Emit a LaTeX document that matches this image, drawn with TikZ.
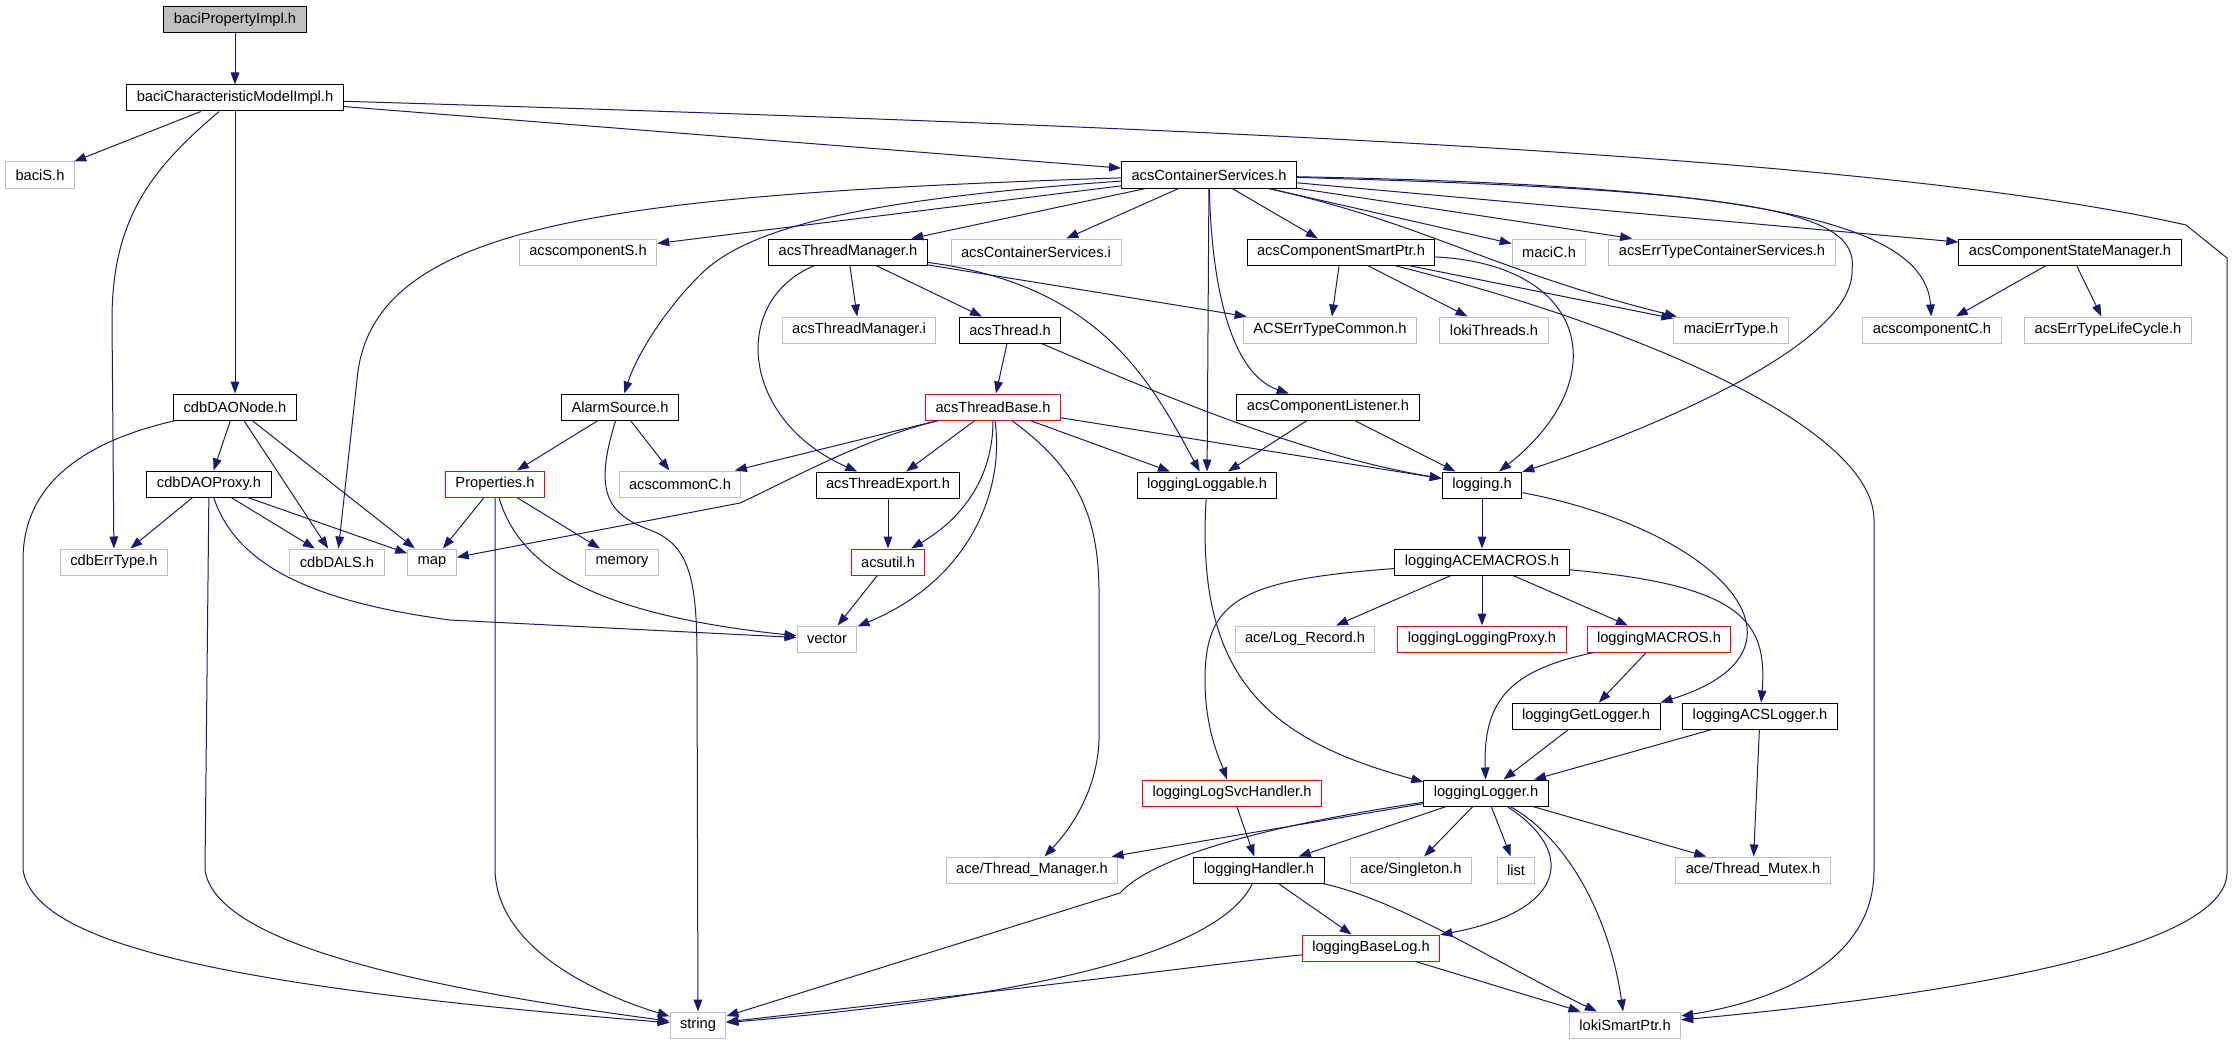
\documentclass[tikz,border=0pt]{standalone}
\usepackage{fontspec}
\setmainfont{Liberation Sans}
\usepackage{tikz}
\usetikzlibrary{arrows.meta}
\definecolor{edgeblue}{RGB}{25,25,112}
\definecolor{boxgray}{RGB}{191,191,191}
\definecolor{boxred}{RGB}{255,0,0}

\begin{document}
\begin{tikzpicture}[x=0.75pt, y=-0.75pt,
    file/.style={draw=black, line width=0.75pt, minimum height=19.5pt, inner xsep=7.5pt, inner ysep=0pt, font=\fontsize{11}{13}\selectfont},
    sysfile/.style={file, draw=boxgray},
    partfile/.style={file, draw=boxred},
    rootfile/.style={file, fill=boxgray},
    dep/.style={edgeblue, line width=0.75pt, -{Triangle[length=9pt,width=6.5pt]}}]
        \useasboundingbox (0,0) rectangle (2233,1045);
        \fill[white] (0,0) rectangle (2233,1045);

        \node[rootfile] (root) at (235,20) {baciPropertyImpl.h};
        \node[file] (bcm) at (235,98) {baciCharacteristicModelImpl.h};
        \node[sysfile] (bacis) at (40,175) {baciS.h};
        \node[file] (csv) at (1209,175) {acsContainerServices.h};
        \node[sysfile] (compS) at (588,252) {acscomponentS.h};
        \node[file] (tmgr) at (848,252) {acsThreadManager.h};
        \node[sysfile] (csvi) at (1036,252) {acsContainerServices.i};
        \node[file] (smart) at (1341,252) {acsComponentSmartPtr.h};
        \node[sysfile] (macic) at (1549,252) {maciC.h};
        \node[sysfile] (errcs) at (1722,252) {acsErrTypeContainerServices.h};
        \node[file] (stmgr) at (2070,252) {acsComponentStateManager.h};
        \node[sysfile] (tmgri) at (859,330) {acsThreadManager.i};
        \node[file] (thr) at (1010,330) {acsThread.h};
        \node[sysfile] (errcom) at (1330,330) {ACSErrTypeCommon.h};
        \node[sysfile] (lthr) at (1494,330) {lokiThreads.h};
        \node[sysfile] (macierr) at (1731,330) {maciErrType.h};
        \node[sysfile] (compC) at (1932,330) {acscomponentC.h};
        \node[sysfile] (errlc) at (2108,330) {acsErrTypeLifeCycle.h};
        \node[file] (daonode) at (235,407) {cdbDAONode.h};
        \node[file] (alarm) at (620,407) {AlarmSource.h};
        \node[partfile] (tbase) at (993,407) {acsThreadBase.h};
        \node[file] (listener) at (1328,407) {acsComponentListener.h};
        \node[file] (daoproxy) at (209,484) {cdbDAOProxy.h};
        \node[partfile] (props) at (495,484) {Properties.h};
        \node[sysfile] (commonC) at (680,484) {acscommonC.h};
        \node[file] (texport) at (888,485) {acsThreadExport.h};
        \node[file] (loggable) at (1207,485) {loggingLoggable.h};
        \node[file] (logging) at (1482,485) {logging.h};
        \node[sysfile] (cdberr) at (114,562) {cdbErrType.h};
        \node[sysfile] (dals) at (337,562) {cdbDALS.h};
        \node[sysfile] (map) at (432,562) {map};
        \node[sysfile] (memory) at (622,562) {memory};
        \node[partfile] (util) at (888,562) {acsutil.h};
        \node[file] (acemac) at (1482,562) {loggingACEMACROS.h};
        \node[sysfile] (vector) at (827,639) {vector};
        \node[sysfile] (logrec) at (1305,639) {ace/Log\_Record.h};
        \node[partfile] (proxy) at (1482,639) {loggingLoggingProxy.h};
        \node[partfile] (macros) at (1659,639) {loggingMACROS.h};
        \node[file] (getlog) at (1586,716) {loggingGetLogger.h};
        \node[file] (acslog) at (1760,716) {loggingACSLogger.h};
        \node[file] (logger) at (1486,793) {loggingLogger.h};
        \node[partfile] (svc) at (1232,793) {loggingLogSvcHandler.h};
        \node[sysfile] (tmgrace) at (1032,870) {ace/Thread\_Manager.h};
        \node[file] (handler) at (1259,870) {loggingHandler.h};
        \node[sysfile] (single) at (1411,870) {ace/Singleton.h};
        \node[sysfile] (list) at (1516,870) {list};
        \node[sysfile] (mutex) at (1753,870) {ace/Thread\_Mutex.h};
        \node[partfile] (baselog) at (1371,948) {loggingBaseLog.h};
        \node[sysfile] (string) at (698,1025) {string};
        \node[sysfile] (loki) at (1625,1025) {lokiSmartPtr.h};

        \draw[dep] (root) -- (bcm);
        \draw[dep] (bcm) -- (bacis);
        \draw[dep] (bcm) .. controls (150,170) and (112,220) .. (112,320) -- (cdberr);
        \draw[dep] (bcm) -- (daonode);
        \draw[dep] (bcm) -- (csv);
        \draw[dep] (bcm) .. controls (1300,130) and (1900,160) .. (2186,225) -- (2227,258) -- (2227,873) .. controls (2225,950) and (1950,995) .. (loki);

        \draw[dep] (csv) -- (compS);
        \draw[dep] (csv) -- (tmgr);
        \draw[dep] (csv) -- (csvi);
        \draw[dep] (csv) -- (smart);
        \draw[dep] (csv) -- (macic);
        \draw[dep] (csv) -- (errcs);
        \draw[dep] (csv) -- (stmgr);
        \draw[dep] (csv) .. controls (1720,185) and (1925,215) .. (compC);
        \draw[dep] (csv) .. controls (1750,190) and (1860,210) .. (1852,270) .. controls (1855,350) and (1620,440) .. (logging);
        \draw[dep] (csv) .. controls (1430,225) and (1490,270) .. (macierr);
        \draw[dep] (csv) -- (loggable);
        \draw[dep] (csv) .. controls (1212,300) and (1235,375) .. (listener);
        \draw[dep] (csv) .. controls (850,200) and (745,230) .. (700,275) .. controls (660,315) and (635,360) .. (alarm);
        \draw[dep] (csv) .. controls (600,195) and (370,225) .. (357,380) -- (dals);

        \draw[dep] (smart) -- (errcom);
        \draw[dep] (smart) -- (lthr);
        \draw[dep] (smart) -- (macierr);
        \draw[dep] (smart) .. controls (1590,265) and (1615,380) .. (logging);
        \draw[dep] (smart) .. controls (1650,330) and (1874,430) .. (1874,520) -- (1874,870) .. controls (1874,960) and (1780,1000) .. (loki);
        \draw[dep] (stmgr) -- (compC);
        \draw[dep] (stmgr) -- (errlc);

        \draw[dep] (tmgr) -- (tmgri);
        \draw[dep] (tmgr) -- (thr);
        \draw[dep] (tmgr) -- (errcom);
        \draw[dep] (tmgr) .. controls (730,300) and (740,420) .. (texport);
        \draw[dep] (tmgr) .. controls (1100,285) and (1150,380) .. (loggable);
        \draw[dep] (thr) -- (tbase);
        \draw[dep] (thr) .. controls (1150,390) and (1300,455) .. (logging);

        \draw[dep] (tbase) -- (commonC);
        \draw[dep] (tbase) .. controls (860,440) and (790,480) .. (740,503) -- (map);
        \draw[dep] (tbase) -- (texport);
        \draw[dep] (tbase) .. controls (993,480) and (960,520) .. (util);
        \draw[dep] (tbase) .. controls (1005,490) and (970,580) .. (vector);
        \draw[dep] (tbase) .. controls (1080,470) and (1100,520) .. (1099,600) -- (1099,740) .. controls (1097,800) and (1060,840) .. (tmgrace);
        \draw[dep] (tbase) -- (loggable);
        \draw[dep] (tbase) -- (logging);
        \draw[dep] (texport) -- (util);
        \draw[dep] (util) -- (vector);

        \draw[dep] (listener) -- (loggable);
        \draw[dep] (listener) -- (logging);
        \draw[dep] (loggable) .. controls (1195,680) and (1270,740) .. (logger.170);

        \draw[dep] (logging) -- (acemac);
        \draw[dep] (logging) .. controls (1720,530) and (1830,650) .. (getlog.north east);
        \draw[dep] (acemac) -- (logrec);
        \draw[dep] (acemac) -- (proxy);
        \draw[dep] (acemac) -- (macros);
        \draw[dep] (acemac) .. controls (1740,585) and (1768,620) .. (acslog);
        \draw[dep] (acemac) .. controls (1240,580) and (1205,600) .. (1205,680) .. controls (1205,730) and (1220,760) .. (svc);
        \draw[dep] (macros) -- (getlog);
        \draw[dep] (macros) .. controls (1510,670) and (1483,700) .. (logger);
        \draw[dep] (getlog) -- (logger);
        \draw[dep] (acslog) -- (logger);
        \draw[dep] (acslog) -- (mutex);
        \draw[dep] (svc) -- (handler);

        \draw[dep] (logger) -- (tmgrace);
        \draw[dep] (logger) .. controls (1250,828) and (1150,860) .. (1120,893) -- (string);
        \draw[dep] (logger) -- (handler);
        \draw[dep] (logger) -- (single);
        \draw[dep] (logger) -- (list);
        \draw[dep] (logger) .. controls (1575,850) and (1570,910) .. (baselog);
        \draw[dep] (logger) .. controls (1570,840) and (1610,920) .. (loki);
        \draw[dep] (logger) -- (mutex);
        \draw[dep] (handler) -- (baselog);
        \draw[dep] (handler) .. controls (1220,950) and (1050,995) .. (string);
        \draw[dep] (handler) .. controls (1400,900) and (1500,965) .. (loki);
        \draw[dep] (baselog) .. controls (1230,962) and (1100,980) .. (string);
        \draw[dep] (baselog) -- (loki);

        \draw[dep] (daonode) .. controls (90,440) and (23,480) .. (23,560) -- (23,870) .. controls (35,940) and (200,985) .. (string);
        \draw[dep] (daonode) -- (daoproxy);
        \draw[dep] (daonode) -- (dals);
        \draw[dep] (daonode) -- (map);
        \draw[dep] (daoproxy) -- (cdberr);
        \draw[dep] (daoproxy) -- (dals);
        \draw[dep] (daoproxy) -- (map);
        \draw[dep] (daoproxy) -- (205,870) .. controls (215,940) and (400,985) .. (string);
        \draw[dep] (daoproxy) .. controls (235,560) and (300,600) .. (450,620) -- (vector);

        \draw[dep] (props) -- (map);
        \draw[dep] (props) -- (memory);
        \draw[dep] (props) -- (495,870) .. controls (497,950) and (600,995) .. (string);
        \draw[dep] (props) .. controls (520,570) and (600,615) .. (vector);
        \draw[dep] (alarm) -- (props);
        \draw[dep] (alarm) -- (commonC);
        \draw[dep] (alarm) .. controls (592,495) and (610,515) .. (650,530) .. controls (690,545) and (697,580) .. (697,660) -- (string);
    \end{tikzpicture}
\end{document}
